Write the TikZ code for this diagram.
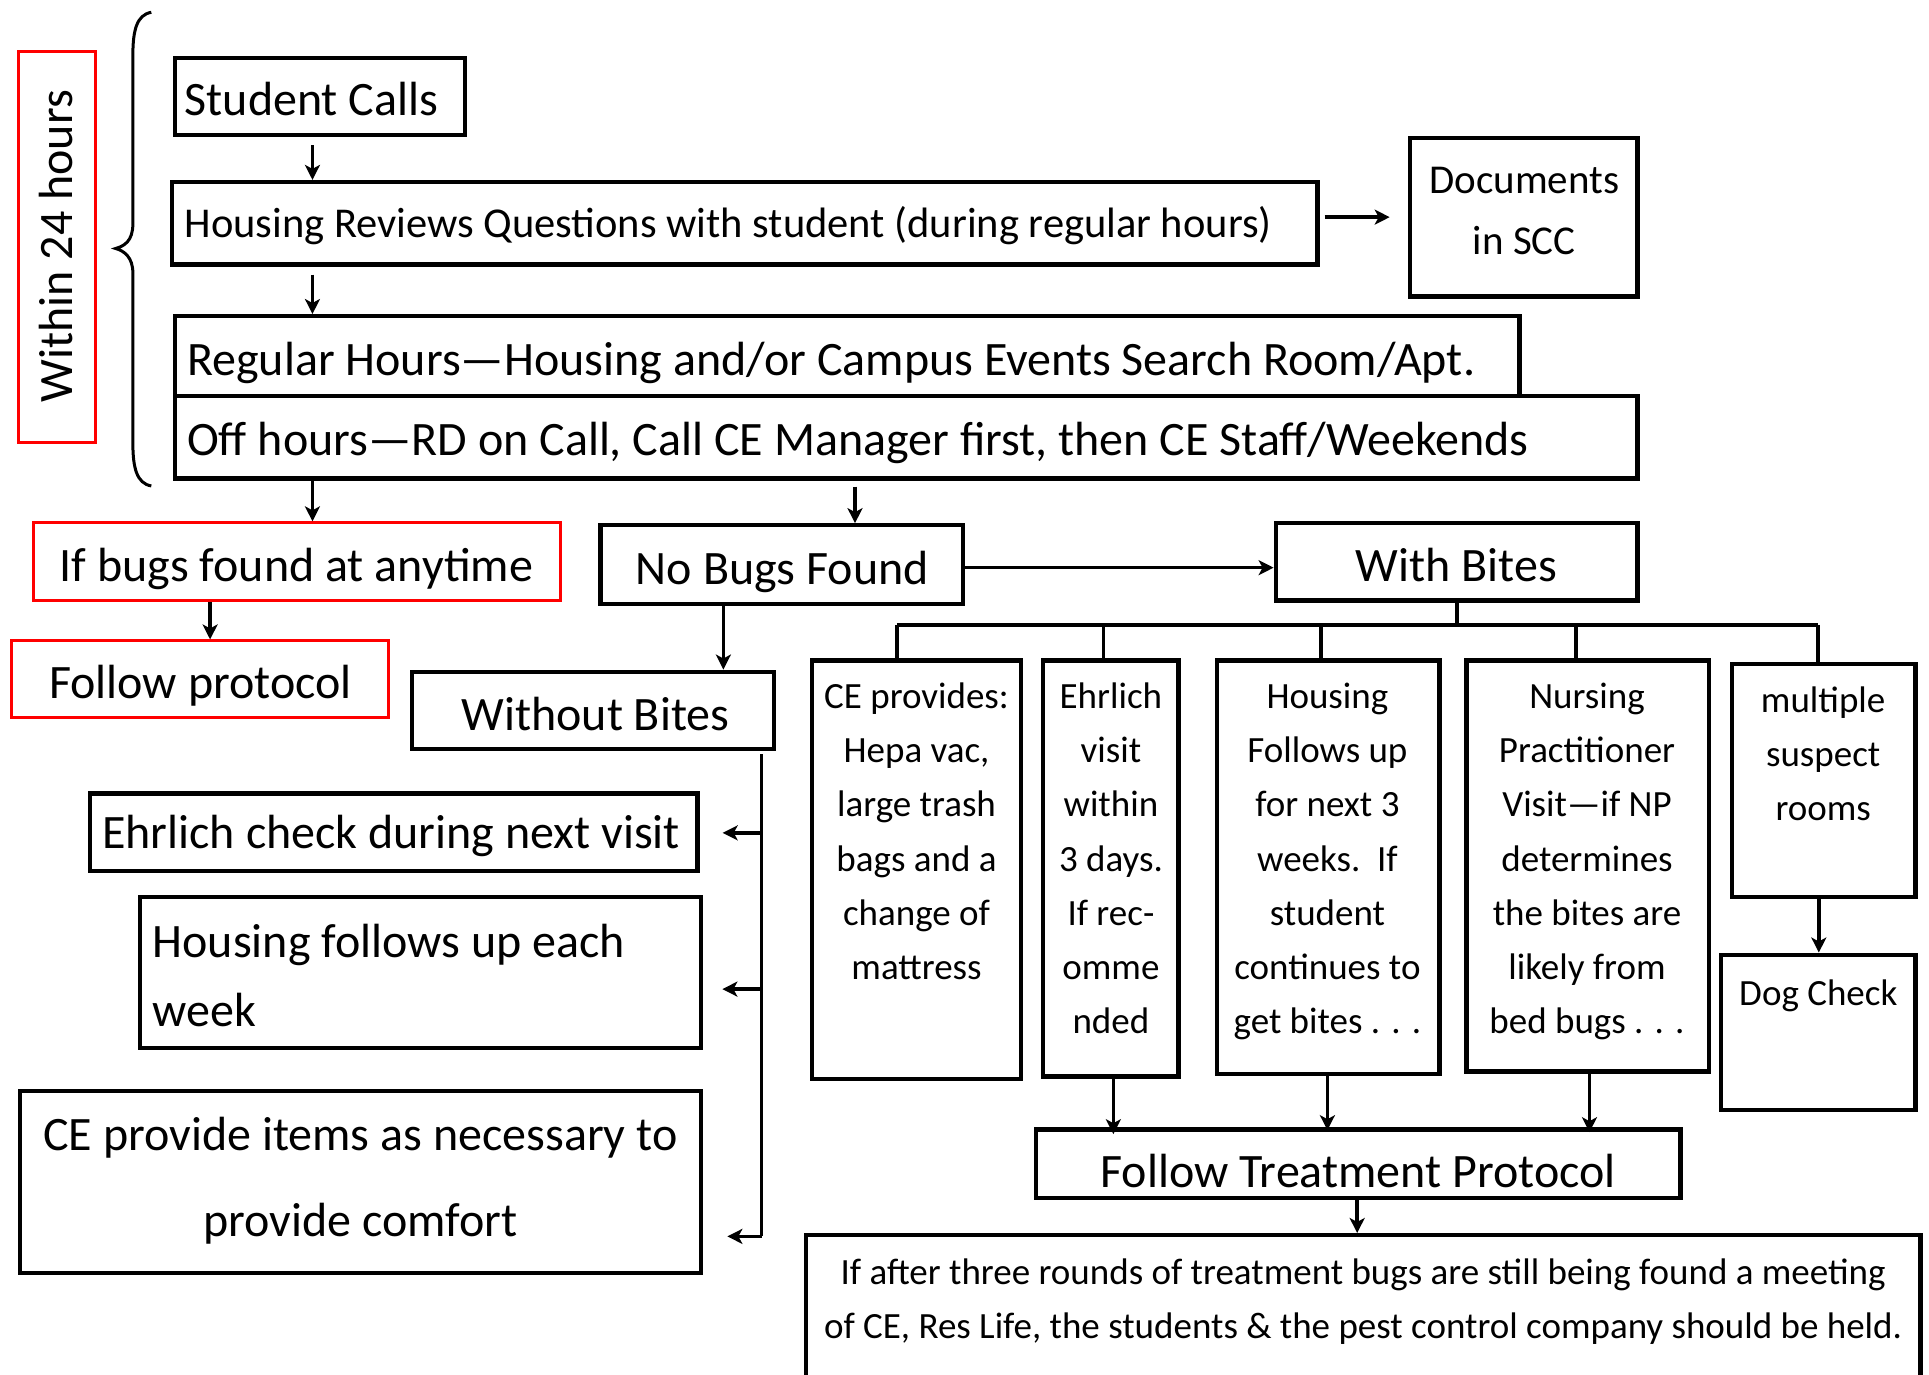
\documentclass[tikz,border=0pt]{standalone}
\usepackage{fontspec}
\setmainfont{Carlito}
\usetikzlibrary{arrows.meta,fit,calc}
\newcommand\mkbox[6]{%
  \coordinate (#1-a) at (#2,#3);
  \coordinate (#1-b) at (#4,#5);
  \node[#6, fit=(#1-a)(#1-b)] (#1) {};}
\begin{document}
\begin{tikzpicture}[x=1.2302pt,y=-1.2302pt,
  bx/.style={draw=black, line width=4.3pt, inner sep=0pt},
  rbx/.style={draw=red, line width=3pt, inner sep=0pt},
  big/.style={inner sep=0pt, font=\fontsize{48}{58}\selectfont},
  mid/.style={inner sep=0pt, font=\fontsize{42.5}{50}\selectfont},
  tl/.style={inner sep=0pt, anchor=base, font=\fontsize{37}{44}\selectfont},
  arr/.style={line width=3.6pt, -{Stealth[length=15pt,width=15pt,inset=4pt]}},
  ln/.style={line width=3.8pt}]
\clip (0,0) rectangle (1568,1117);
\fill[white] (0,0) rectangle (1568,1117);

% brace
\draw[line width=3pt] (123,10) .. controls (111,12) and (108,25) .. (108,45)
  -- (108,182) .. controls (108,196) and (101,200) .. (94,202)
  .. controls (101,204) and (108,209) .. (108,222)
  -- (108,360) .. controls (108,380) and (111,393) .. (123,395);

% red within box
\mkbox{w24}{15}{42}{78}{360}{rbx}
\node[big, rotate=90, anchor=base] (w24t) at (59,200) {Within 24 hours};

% top flow
\mkbox{calls}{142}{47}{378}{110}{bx}
\node[big, anchor=base west] (callst) at (150,94) {Student Calls};
\mkbox{revq}{140}{148}{1071}{215}{bx}
\node[mid, anchor=base west] (revqt) at (150,193) {Housing Reviews Questions with student (during regular hours)};
\mkbox{docs}{1146}{112}{1331}{241}{bx}
\node[mid, anchor=base, font=\fontsize{41}{50}\selectfont] (docst1) at (1239,157) {Documents};
\node[mid, anchor=base, font=\fontsize{41}{50}\selectfont] (docst2) at (1239,207) {in SCC};
\mkbox{reg}{142}{257}{1235}{322}{bx}
\node[big, anchor=base west] (regt) at (152,305) {Regular Hours—Housing and/or Campus Events Search Room/Apt.};
\mkbox{offh}{142}{322}{1331}{389}{bx}
\node[big, anchor=base west] (offht) at (152,370) {Off hours—RD on Call, Call CE Manager first, then CE Staff/Weekends};

% second level
\mkbox{bugs}{27}{425}{456}{488}{rbx}
\node[big, anchor=base] (bugst) at (241,473) {If bugs found at anytime};
\mkbox{follow}{9}{521}{316}{583}{rbx}
\node[big, anchor=base] (followt) at (163,568) {Follow protocol};
\mkbox{nobugs}{488}{427}{783}{491}{bx}
\node[big, anchor=base] (nobugst) at (636,475) {No Bugs Found};
\mkbox{withb}{1037}{425}{1331}{488}{bx}
\node[big, anchor=base] (withbt) at (1184,473) {With Bites};
\mkbox{without}{335}{546}{629}{609}{bx}
\node[big, anchor=base] (withoutt) at (484,594) {Without Bites};

% without bites branch
\mkbox{ehrc}{73}{645}{567}{708}{bx}
\node[big, anchor=base] (ehrct) at (318,690) {Ehrlich check during next visit};
\mkbox{hfu}{114}{729}{570}{852}{bx}
\node[big, anchor=base west] (hfut1) at (124,778) {Housing follows up each};
\node[big, anchor=base west] (hfut2) at (124,834) {week};
\mkbox{cepi}{16}{887}{570}{1035}{bx}
\node[big, anchor=base] (cepit1) at (293,935) {CE provide items as necessary to};
\node[big, anchor=base] (cepit2) at (293,1005) {provide comfort};

% with bites branch
\mkbox{cep}{660}{537}{830}{877}{bx}
\foreach \s [count=\i from 0] in {{CE provides:},{Hepa vac,},{large trash},{bags and a},{change of},{mattress}}
  \node[tl] (cep-\i) at (745,{576+44*\i}) {\s};
\mkbox{ehv}{848}{537}{958}{875}{bx}
\foreach \s [count=\i from 0] in {{Ehrlich},{visit},{within},{3 days.},{If rec-},{omme},{nded}}
  \node[tl] (ehv-\i) at (903,{576+44*\i}) {\s};
\mkbox{hsg}{989}{537}{1170}{873}{bx}
\foreach \s [count=\i from 0] in {{Housing},{Follows up},{for next 3},{weeks.\ \ If},{student},{continues to},{get bites . . .}}
  \node[tl] (hsg-\i) at (1079,{576+44*\i}) {\s};
\mkbox{nrs}{1192}{537}{1389}{871}{bx}
\foreach \s [count=\i from 0] in {{Nursing},{Practitioner},{Visit—if NP},{determines},{the bites are},{likely from},{bed bugs . . .}}
  \node[tl] (nrs-\i) at (1290,{576+44*\i}) {\s};
\mkbox{mult}{1408}{540}{1557}{729}{bx}
\foreach \s [count=\i from 0] in {{multiple},{suspect},{rooms}}
  \node[tl] (mult-\i) at (1482,{579+44*\i}) {\s};
\mkbox{dog}{1399}{776}{1557}{902}{bx}
\node[tl] (dogt) at (1478,817) {Dog Check};

\mkbox{ftp}{842}{918}{1366}{974}{bx}
\node[big, anchor=base] (ftpt) at (1104,965) {Follow Treatment Protocol};
\mkbox{meet}{655}{1004}{1561}{1140}{bx}
\node[tl] (meett1) at (1108,1044) {If after three rounds of treatment bugs are still being found a meeting};
\node[tl] (meett2) at (1108,1088) {of CE, Res Life, the students \& the pest control company should be held.};

% connectors
\draw[arr] ([xshift=-7.4pt,yshift=-8pt]calls.south) -- ([xshift=-7.4pt]calls.south |- revq.north);
\draw[arr] ([xshift=-7.4pt,yshift=-8pt]calls.south |- revq.south) -- ([xshift=-7.4pt]calls.south |- reg.north);
\draw[arr, shorten <=5pt, shorten >=18pt] (revq.east |- docs.west) -- (docs.west);
\draw[arr] (calls.south |- offh.south) ++(-7.4pt,0) -- ([xshift=-7.4pt]calls.south |- bugs.north);
\coordinate (nbx) at (695,391);
\draw[arr] ([yshift=-6pt]nbx |- offh.south) -- (nbx |- nobugs.north);
\draw[arr] ([xshift=-87pt]bugs.south) -- ([xshift=-87pt]bugs.south |- follow.north);
\draw[arr] ([yshift=-3pt]nobugs.east) -- ([yshift=-3pt]nobugs.east -| withb.west);
\coordinate (wbx) at (588,492);
\draw[arr] (wbx |- nobugs.south) -- (wbx |- without.north);

% without-bites spine
\coordinate (sp0) at (619,613);
\coordinate (sp1) at (619,677);
\coordinate (sp2) at (619,804);
\coordinate (sp3) at (619,1005);
\draw[ln] (sp0) -- (sp3);
\draw[arr, shorten >=23pt] (sp1) -- (sp1 -| ehrc.east);
\draw[arr, shorten >=19pt] (sp2) -- (sp2 -| hfu.east);
\draw[arr, shorten >=24pt] (sp3) -- (sp3 -| cepi.east);

% with-bites tree
\coordinate (tr) at (1184,508);
\draw[ln] (withb.south) -- (tr);
\coordinate (trl) at (729,508);
\coordinate (trr) at (1478,508);
\draw[ln] (trl) -- (trr);
\draw[ln] (trl) -- (trl |- cep.north);
\draw[ln] (897,508) -- (897,537) coordinate (t2);
\draw[ln] (1074,508) -- (1074,537);
\draw[ln] (1281,508) -- (1281,537);
\draw[ln] (trr) -- (trr |- mult.north);

\draw[arr] ([xshift=-5pt]mult.south) -- ([xshift=-5pt]mult.south |- dog.north);
\coordinate (e1) at (905,872);
\coordinate (e2) at (1079,872);
\coordinate (e3) at (1292,872);
\draw[arr] (e1 |- ehv.south) -- ([yshift=-7pt]e1 |- ftp.north);
\draw[arr] (e2 |- hsg.south) -- ([yshift=-3pt]e2 |- ftp.north);
\draw[arr] (e3 |- nrs.south) -- ([yshift=-5pt]e3 |- ftp.north);
\draw[arr] ([xshift=-1pt]ftp.south) -- ([xshift=-1pt]ftp.south |- meet.north);
\end{tikzpicture}
\end{document}
